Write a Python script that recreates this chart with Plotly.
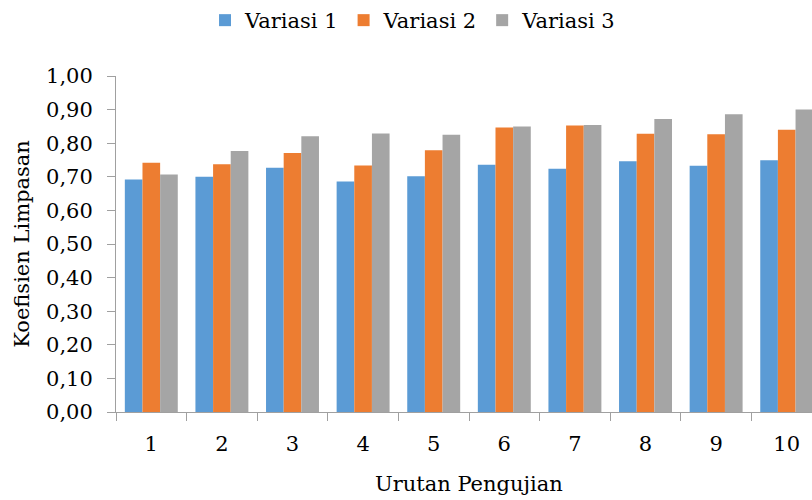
import plotly.graph_objects as go

# Runoff coefficient per test sequence, three variations
urutan = ["1", "2", "3", "4", "5", "6", "7", "8", "9", "10"]
variasi_1 = [0.692, 0.700, 0.727, 0.686, 0.702, 0.736, 0.724, 0.746, 0.733, 0.749]
variasi_2 = [0.742, 0.737, 0.771, 0.734, 0.779, 0.847, 0.853, 0.828, 0.827, 0.840]
variasi_3 = [0.707, 0.777, 0.821, 0.829, 0.825, 0.850, 0.854, 0.872, 0.886, 0.900]

series = [
    ("Variasi 1", variasi_1, "#5B9BD5"),
    ("Variasi 2", variasi_2, "#ED7D31"),
    ("Variasi 3", variasi_3, "#A5A5A5"),
]

FONT = "DejaVu Serif"
SIZE = 21
AXIS_COLOR = "#A0A0A0"
text_font = dict(family=FONT, size=SIZE, color="#000000")

fig = go.Figure()
for name, vals, color in series:
    fig.add_trace(go.Bar(
        x=urutan, y=vals, name=name,
        marker=dict(color=color, line=dict(width=0)),
    ))

fig.update_layout(
    width=812, height=500,
    margin=dict(l=116, r=0, t=76, b=88),
    paper_bgcolor="white", plot_bgcolor="white",
    barmode="group", bargap=0.25, bargroupgap=0,
    separators=",.",
    font=text_font,
    showlegend=True,
    legend=dict(
        orientation="h", x=0.2525, xanchor="left", xref="container",
        y=1.0, yanchor="top", yref="container",
        font=text_font, itemwidth=30, tracegroupgap=0,
    ),
    xaxis=dict(
        type="category",
        range=[-0.5, 9.358],
        showline=True, linecolor=AXIS_COLOR, linewidth=1,
        ticks="outside", tickson="boundaries", ticklen=8,
        tickcolor=AXIS_COLOR, tickwidth=1, ticklabelstandoff=13,
        showgrid=False, zeroline=False,
        tickfont=text_font,
    ),
    yaxis=dict(
        range=[0, 1.0],
        tick0=0, dtick=0.1, tickformat=".2f",
        showline=True, linecolor=AXIS_COLOR, linewidth=1,
        ticks="outside", ticklen=8, tickcolor=AXIS_COLOR, tickwidth=1,
        ticklabelstandoff=10,
        showgrid=False, zeroline=False,
        tickfont=text_font,
        title=dict(text="Koefisien Limpasan", standoff=10, font=text_font),
    ),
)

# x-axis title centred on the full category span
fig.add_annotation(
    text="Urutan Pengujian", xref="x", yref="paper",
    x=4.5, y=0, yshift=-58, yanchor="top", showarrow=False,
    font=text_font,
)

fig.write_html("out.html")
